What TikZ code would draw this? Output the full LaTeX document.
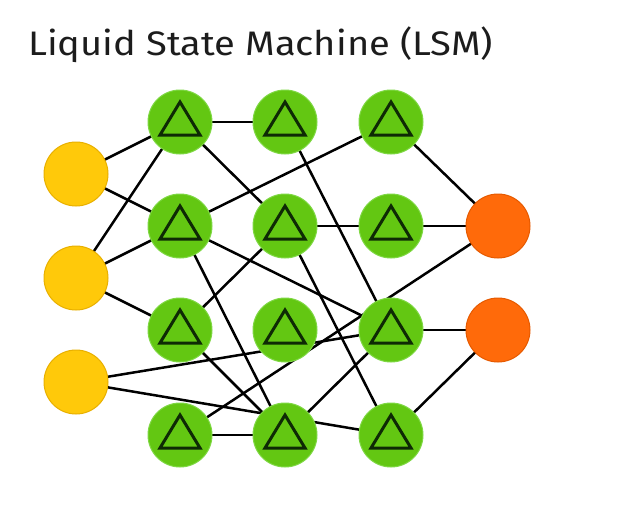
\documentclass[tikz,border=0pt]{standalone}
\usepackage{fontspec}
\setmainfont{Fira Sans}
\newfontfamily\titlefont{Fira Sans}[FakeStretch=1.12]
\pgfdeclarelayer{bg}
\pgfsetlayers{bg,main}
\definecolor{inyel}{HTML}{FFC90A}
\definecolor{inyeledge}{HTML}{E8B000}
\definecolor{hidgreen}{HTML}{63C712}
\definecolor{hidedge}{HTML}{7FD844}
\definecolor{outor}{HTML}{FF6A0A}
\definecolor{outoredge}{HTML}{E65A00}
\definecolor{tridark}{HTML}{0E2A05}
\definecolor{titlegray}{HTML}{1C1C1C}
\tikzset{
  cell/.style={circle, minimum size=64pt, inner sep=0pt, line width=1pt},
  incell/.style={cell, fill=inyel, draw=inyeledge},
  hidcell/.style={cell, fill=hidgreen, draw=hidedge},
  outcell/.style={cell, fill=outor, draw=outoredge},
  tri/.style={draw=tridark, line width=3pt, line join=miter},
  link/.style={draw=black, line width=2.5pt},
  titletext/.style={font=\titlefont\fontsize{34}{40}\selectfont, text=titlegray, inner sep=0pt, anchor=base west}
}
\begin{document}
\begin{tikzpicture}[x=1pt, y=-1pt]
\useasboundingbox (0,0) rectangle (644,506);
\begin{pgfonlayer}{bg}
\fill[white] (0,0) rectangle (644,506);
\end{pgfonlayer}
\node[titletext] (title) at (28,55) {Liquid State Machine (LSM)};
% inputs
\node[incell] (i1) at (76,174) {};
\node[incell] (i2) at (76,278) {};
\node[incell] (i3) at (76,382) {};
% hidden grid
\foreach \c/\x in {1/180,2/285,3/391}{
  \foreach \r/\y in {1/122,2/226,3/330,4/435}{
    \node[hidcell] (g\c\r) at (\x,\y) {};
  }
}
% outputs
\node[outcell] (o1) at (498,226) {};
\node[outcell] (o2) at (498,330) {};
% triangles
\foreach \c in {1,2,3}{
  \foreach \r in {1,2,3,4}{
    \draw[tri] ([shift={(-20pt,-13pt)}]g\c\r.center) -- ([shift={(20pt,-13pt)}]g\c\r.center) -- ([shift={(0pt,20pt)}]g\c\r.center) -- cycle;
  }
}
% connections
\begin{pgfonlayer}{bg}
\foreach \a/\b in {i1/g11, i1/g12, i2/g11, i2/g12, i2/g13, i3/g33, i3/g34,
  g11/g21, g11/g22, g12/g31, g12/g24, g12/g33, g13/g22, g13/g24, g14/g24,
  g14/o1, g21/g33, g22/g32, g22/g34, g24/g33, g31/o1, g32/o1, g33/o2, g34/o2}{
  \draw[link] (\a.center) -- (\b.center);
}
\end{pgfonlayer}
\end{tikzpicture}
\end{document}
